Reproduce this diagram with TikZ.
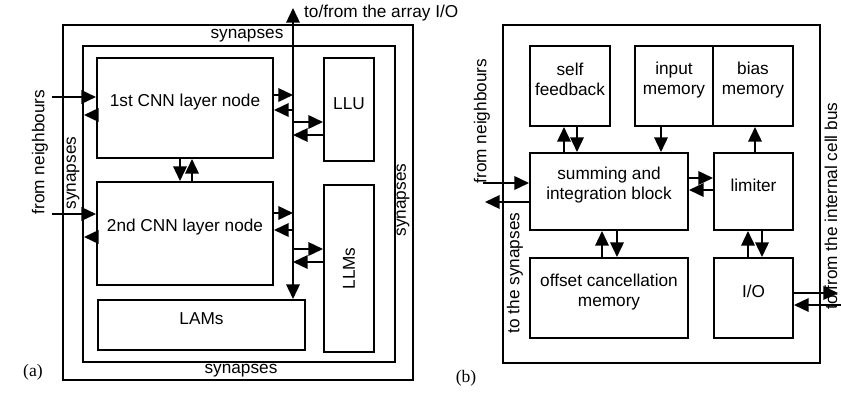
\documentclass[tikz,border=0pt]{standalone}
\usepackage{fontspec}
\setmainfont{Liberation Sans}
\newfontfamily\capfont{Liberation Serif}
\usetikzlibrary{arrows.meta, positioning, fit}

\tikzset{
  blk/.style={draw, line width=1.7pt, inner sep=0pt, align=center},
  wire/.style={line width=1.7pt},
}

\begin{document}
\begin{tikzpicture}[x=0.03cm, y=-0.03cm, >={Triangle[length=12.5pt,width=11.5pt]},
    every node/.style={font=\fontsize{14.7}{17}\selectfont}]
  \useasboundingbox (0,0) rectangle (841,394);

  % (a) cell frames
  \node[blk, fit={(63,25) (413,380)}] (outa) {};
  \node[blk, fit={(83,46) (395,362)}] (inna) {};
  % (a) blocks
  \node[blk, fit={(97,58) (273,158)}] (cnn1) {1st CNN layer node};
  \node[blk, fit={(97,182) (273,285)}] (cnn2) {2nd CNN layer node};
  \node[blk, fit={(324,58) (374,161)}] (llu) {LLU};
  \node[blk, fit={(324,185) (374,352)}] (llm) {};
  \node[rotate=90] at (llm.center) {LLMs};
  \node[blk, fit={(98,300) (305,350)}] (lams) {LAMs};

  % (a) synapse labels
  \node at (247,36) {synapses};
  \node at (241,371) {synapses};
  \node[rotate=90] at (73,173) {synapses};
  \node[rotate=90] at (403,200) {synapses};
  \node[rotate=90] at (40,152) {from neighbours};

  % (a) array I/O bus
  \coordinate (iotop) at (293,8);
  \draw[wire, <->] (iotop) -- (iotop |- lams.north);
  \node[anchor=west] at (300,13) {to/from the array I/O};
  \foreach \n/\y in {b1/95, b2/110, b3/122, b4/135, b5/213, b6/230, b7/249, b8/262}
    \coordinate (\n) at (293,\y);
  \draw[wire, ->] (cnn1.east |- b1) -- (b1);
  \draw[wire, ->] (b2) -- (cnn1.east |- b2);
  \draw[wire, ->] (b3) -- (llu.west |- b3);
  \draw[wire, ->] (llu.west |- b4) -- (b4);
  \draw[wire, ->] (cnn2.east |- b5) -- (b5);
  \draw[wire, ->] (b6) -- (cnn2.east |- b6);
  \draw[wire, ->] (b7) -- (llm.west |- b7);
  \draw[wire, ->] (llm.west |- b8) -- (b8);

  % (a) neighbours and synapses
  \coordinate (na1) at (52,97);
  \coordinate (na2) at (52,214);
  \coordinate (sa1) at (84,115);
  \coordinate (sa2) at (84,237);
  \draw[wire, ->] (na1) -- (cnn1.west |- na1);
  \draw[wire, ->] (na2) -- (cnn2.west |- na2);
  \draw[wire, ->] (cnn1.west |- sa1) -- (sa1);
  \draw[wire, ->] (cnn2.west |- sa2) -- (sa2);

  % (a) layer to layer
  \coordinate (va) at (180,170);
  \coordinate (vb) at (192,170);
  \draw[wire, ->] (cnn1.south -| va) -- (cnn2.north -| va);
  \draw[wire, ->] (cnn2.north -| vb) -- (cnn1.south -| vb);

  % (b) cell frame and blocks
  \node[blk, fit={(503,25) (820,363)}] (frb) {};
  \node[blk, fit={(530,46) (610,126)}] (self) {self\\feedback};
  \node[blk, fit={(635,46) (713,126)}] (inm) {input\\memory};
  \node[blk, fit={(713,46) (793,126)}] (bias) {bias\\memory};
  \node[blk, fit={(530,153) (688,230)}] (sum) {summing and\\integration block};
  \node[blk, fit={(714,153) (793,230)}] (lim) {limiter};
  \node[blk, fit={(530,258) (688,338)}] (ofs) {offset cancellation\\memory};
  \node[blk, fit={(714,258) (793,338)}] (io) {I/O};

  % (b) vertical links
  \foreach \n/\x in {c1/564, c2/577, c3/661, c4/755, c5/602, c6/617, c7/748, c8/762}
    \coordinate (\n) at (\x,140);
  \draw[wire, ->] (sum.north -| c1) -- (self.south -| c1);
  \draw[wire, ->] (self.south -| c2) -- (sum.north -| c2);
  \draw[wire, ->] (inm.south -| c3) -- (sum.north -| c3);
  \draw[wire, ->] (lim.north -| c4) -- (bias.south -| c4);
  \draw[wire, ->] (ofs.north -| c5) -- (sum.south -| c5);
  \draw[wire, ->] (sum.south -| c6) -- (ofs.north -| c6);
  \draw[wire, ->] (io.north -| c7) -- (lim.south -| c7);
  \draw[wire, ->] (lim.south -| c8) -- (io.north -| c8);

  % (b) horizontal links
  \coordinate (r1) at (700,178);
  \coordinate (r2) at (700,190);
  \draw[wire, ->] (sum.east |- r1) -- (lim.west |- r1);
  \draw[wire, ->] (lim.west |- r2) -- (sum.east |- r2);
  \coordinate (nb) at (483,183);
  \coordinate (sy) at (485,202);
  \draw[wire, ->] (nb) -- (sum.west |- nb);
  \draw[wire, ->] (sum.west |- sy) -- (sy);
  \coordinate (bo) at (838,293);
  \coordinate (bi) at (841,305);
  \draw[wire, ->] (io.east |- bo) -- (bo);
  \draw[wire, ->] (bi) -- (io.east |- bi);

  % (b) labels
  \node[rotate=90] at (482,121) {from neighbours};
  \node[rotate=90] at (515,273) {to the synapses};
  \node[rotate=90] at (831,206) {to/from the internal cell bus};

  % panel captions
  \node[font=\capfont\fontsize{15}{17}\selectfont] at (33,372) {(a)};
  \node[font=\capfont\fontsize{15}{17}\selectfont] at (466,378) {(b)};
\end{tikzpicture}
\end{document}
